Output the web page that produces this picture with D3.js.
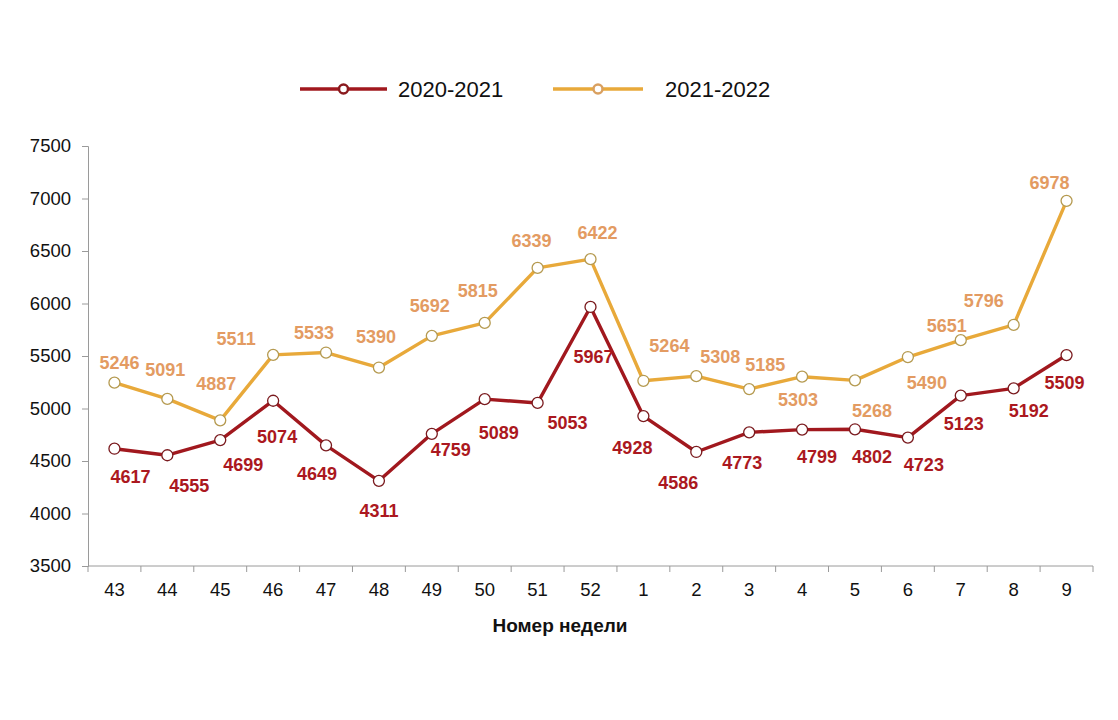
<!DOCTYPE html>
<html>
<head>
<meta charset="utf-8">
<script src="https://cdn.jsdelivr.net/npm/d3@7"></script>
<style>
  body { margin: 0; background: #fff; }
  svg { font-family: "Liberation Sans", Arial, sans-serif; }
</style>
</head>
<body>
<div id="chart"></div>
<script>
// week numbers
var weeks = ["43", "44", "45", "46", "47", "48", "49", "50", "51", "52",
             "1", "2", "3", "4", "5", "6", "7", "8", "9"];

// weekly values per season
var season2020 = [4617, 4555, 4699, 5074, 4649, 4311, 4759, 5089, 5053, 5967,
                  4928, 4586, 4773, 4799, 4802, 4723, 5123, 5192, 5509];
var season2021 = [5246, 5091, 4887, 5511, 5533, 5390, 5692, 5815, 6339, 6422,
                  5264, 5308, 5185, 5303, 5268, 5490, 5651, 5796, 6978];

var yTicks = [3500, 4000, 4500, 5000, 5500, 6000, 6500, 7000, 7500];

// label offsets (px) relative to each point, as placed in the original
var offRed = [[16, 28], [22, 30], [23, 24], [4, 36], [-9, 28], [0, 30], [19, 16], [14, 33], [30, 20], [3, 50],
              [-11, 31], [-18, 31], [-7, 30], [15, 27], [17, 27], [16, 27], [3, 28], [15, 22], [-2, 27]];
var offYel = [[5, -20], [-2, -29], [-4, -37], [-37, -16], [-12, -20], [-3, -31], [-2, -30], [-7, -32], [-6, -27], [7, -27],
              [26, -35], [24, -20], [16, -25], [-4, 23], [17, 30], [19, 25], [-14, -15], [-30, -24], [-17, -18]];

var svgWidth = 1118;
var svgHeight = 720;
var margin = { top: 146, right: 25, bottom: 154, left: 88 };
var chartWidth = svgWidth - margin.left - margin.right;
var chartHeight = svgHeight - margin.top - margin.bottom;

var svg = d3.select("#chart")
  .append("svg")
  .attr("width", svgWidth)
  .attr("height", svgHeight);

var chartGroup = svg.append("g")
  .attr("transform", `translate(${margin.left}, ${margin.top})`);

var xScale = d3.scaleBand()
  .domain(weeks)
  .range([0, chartWidth]);

var yScale = d3.scaleLinear()
  .domain([3500, 7500])
  .range([chartHeight, 0]);

var axisColor = "#9a9a9a";

// x axis: tick marks on band boundaries
var xAxisGroup = chartGroup.append("g")
  .attr("transform", `translate(0, ${chartHeight})`);
xAxisGroup.append("line")
  .attr("x1", 0).attr("x2", chartWidth)
  .attr("stroke", axisColor);
xAxisGroup.selectAll(".xtick")
  .data(weeks.concat(["end"]))
  .enter()
  .append("line")
  .attr("x1", (d, i) => i * xScale.step())
  .attr("x2", (d, i) => i * xScale.step())
  .attr("y1", 0).attr("y2", 6)
  .attr("stroke", axisColor);
xAxisGroup.selectAll(".xlabel")
  .data(weeks)
  .enter()
  .append("text")
  .attr("x", d => xScale(d) + xScale.bandwidth() / 2)
  .attr("y", 30)
  .attr("text-anchor", "middle")
  .attr("font-size", 18.5)
  .attr("fill", "#111")
  .text(d => d);

// y axis
var yAxis = d3.axisLeft(yScale)
  .tickValues(yTicks)
  .tickFormat(d3.format("d"))
  .tickSize(6)
  .tickPadding(11);
var yAxisGroup = chartGroup.append("g").call(yAxis);
yAxisGroup.select(".domain").attr("stroke", axisColor);
yAxisGroup.selectAll(".tick line").attr("stroke", axisColor);
yAxisGroup.selectAll(".tick text")
  .attr("font-size", 18.5)
  .attr("fill", "#111")
  .attr("font-family", "Liberation Sans, Arial, sans-serif");

// axis title
chartGroup.append("text")
  .attr("x", 560 - margin.left)
  .attr("y", chartHeight + 66)
  .attr("text-anchor", "middle")
  .attr("font-size", 19)
  .attr("font-weight", "bold")
  .attr("fill", "#111")
  .text("Номер недели");

var series = [
  { name: "2020-2021", values: season2020, line: "#a1181e", ring: "#7a1a1e", label: "#ab1820", off: offRed },
  { name: "2021-2022", values: season2021, line: "#e8a93a", ring: "#b59a50", label: "#e39b62", off: offYel }
];

var line = d3.line()
  .x((d, i) => xScale(weeks[i]) + xScale.bandwidth() / 2)
  .y(d => yScale(d));

// draw the later season first so the red line sits on top
series.slice().reverse().forEach(function(s) {
  chartGroup.append("path")
    .datum(s.values)
    .attr("fill", "none")
    .attr("stroke", s.line)
    .attr("stroke-width", 3.4)
    .attr("stroke-linejoin", "round")
    .attr("d", line);

  chartGroup.selectAll(null)
    .data(s.values)
    .enter()
    .append("circle")
    .attr("cx", (d, i) => xScale(weeks[i]) + xScale.bandwidth() / 2)
    .attr("cy", d => yScale(d))
    .attr("r", 5.5)
    .attr("fill", "#fff")
    .attr("stroke", s.ring)
    .attr("stroke-width", 1.3);

  chartGroup.selectAll(null)
    .data(s.values)
    .enter()
    .append("text")
    .attr("x", (d, i) => xScale(weeks[i]) + xScale.bandwidth() / 2 + s.off[i][0])
    .attr("y", (d, i) => yScale(d) + s.off[i][1])
    .attr("dy", "0.36em")
    .attr("text-anchor", "middle")
    .attr("font-size", 18)
    .attr("font-weight", "bold")
    .attr("fill", s.label)
    .text(d => d);
});

// legend
var legendItems = [
  { s: series[0], x1: 300, x2: 387, tx: 398, ring: "#8a1a1e" },
  { s: series[1], x1: 553, x2: 643, tx: 665, ring: "#d9a060" }
];
var legend = svg.append("g");
legendItems.forEach(function(it) {
  legend.append("line")
    .attr("x1", it.x1).attr("x2", it.x2)
    .attr("y1", 89).attr("y2", 89)
    .attr("stroke", it.s.line)
    .attr("stroke-width", 3.4);
  legend.append("circle")
    .attr("cx", (it.x1 + it.x2) / 2)
    .attr("cy", 89)
    .attr("r", 4.5)
    .attr("fill", "#fff")
    .attr("stroke", it.ring)
    .attr("stroke-width", 2.5);
  legend.append("text")
    .attr("x", it.tx)
    .attr("y", 89)
    .attr("dy", "0.36em")
    .attr("font-size", 22)
    .attr("fill", "#111")
    .text(it.s.name);
});
</script>
</body>
</html>
